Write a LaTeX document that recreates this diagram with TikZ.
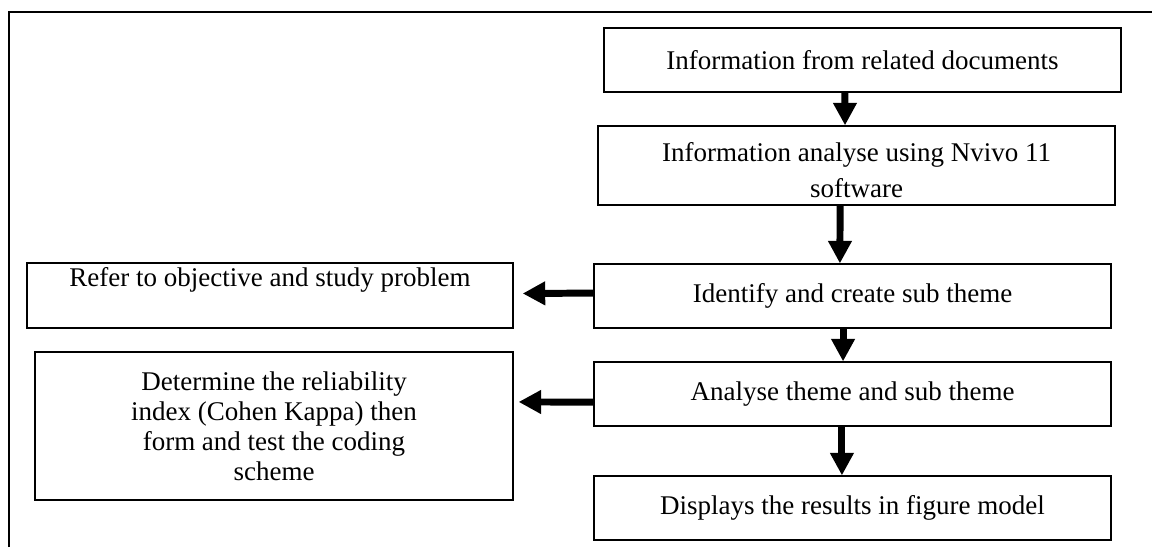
\documentclass[tikz,border=0pt]{standalone}
\usepackage{fontspec}
\setmainfont{Liberation Serif}
\usetikzlibrary{arrows.meta}
\tikzset{
  stepbox/.style={draw, line width=0.6pt, align=center, inner sep=2pt, font=\fontsize{12}{13.3}\selectfont},
  flow/.style={line width=3.1pt, -{Triangle[length=10pt,width=10pt]}}
}

\begin{document}
\begin{tikzpicture}[x=0.4444pt, y=-0.4444pt]
\useasboundingbox (0,0) rectangle (1152,547);
\draw [line width=0.9pt] (9,547) -- (9,12) -- (1152,12);
\node [stepbox, minimum width=229.8pt, minimum height=28.4pt] (info) at (862.5,60) {Information from related documents};
\node [stepbox, minimum width=229.8pt, minimum height=35.1pt, font=\fontsize{12}{16}\selectfont, text height=28.6pt] (nvivo) at (856.5,165.5) {Information analyse using Nvivo 11\\software};
\node [stepbox, minimum width=229.8pt, minimum height=28.4pt] (subtheme) at (852.5,296) {Identify and create sub theme};
\node [stepbox, minimum width=229.8pt, minimum height=28.4pt] (analyse) at (852.5,394) {Analyse theme and sub theme};
\node [stepbox, minimum width=229.8pt, minimum height=28.4pt] (display) at (852.5,508) {Displays the results in figure model};
\node [stepbox, minimum width=216pt, minimum height=28.9pt, text depth=16.4pt] (objective) at (270,295.5) {Refer to objective and study problem};
\node [stepbox, minimum width=212.4pt, minimum height=65.8pt] (reliability) at (274,426) {Determine the reliability\\index (Cohen Kappa) then\\form and test the coding\\scheme};
\draw [flow] ([xshift=-7.8pt]info.south) -- ([xshift=-5.1pt]nvivo.north);
\draw [flow] ([xshift=-7.3pt]nvivo.south) -- ([xshift=-5.6pt]subtheme.north);
\draw [flow] ([xshift=-4.2pt]subtheme.south) -- ([xshift=-4.2pt]analyse.north);
\draw [flow] ([xshift=-4.7pt]analyse.south) -- ([xshift=-4.7pt]display.north);
\draw [flow] ([yshift=1.3pt]subtheme.west) -- ([xshift=4pt,yshift=0.9pt]objective.east);
\draw [flow] ([yshift=-3.6pt]analyse.west) -- ([xshift=2.2pt,yshift=10.7pt]reliability.east);
\end{tikzpicture}
\end{document}
